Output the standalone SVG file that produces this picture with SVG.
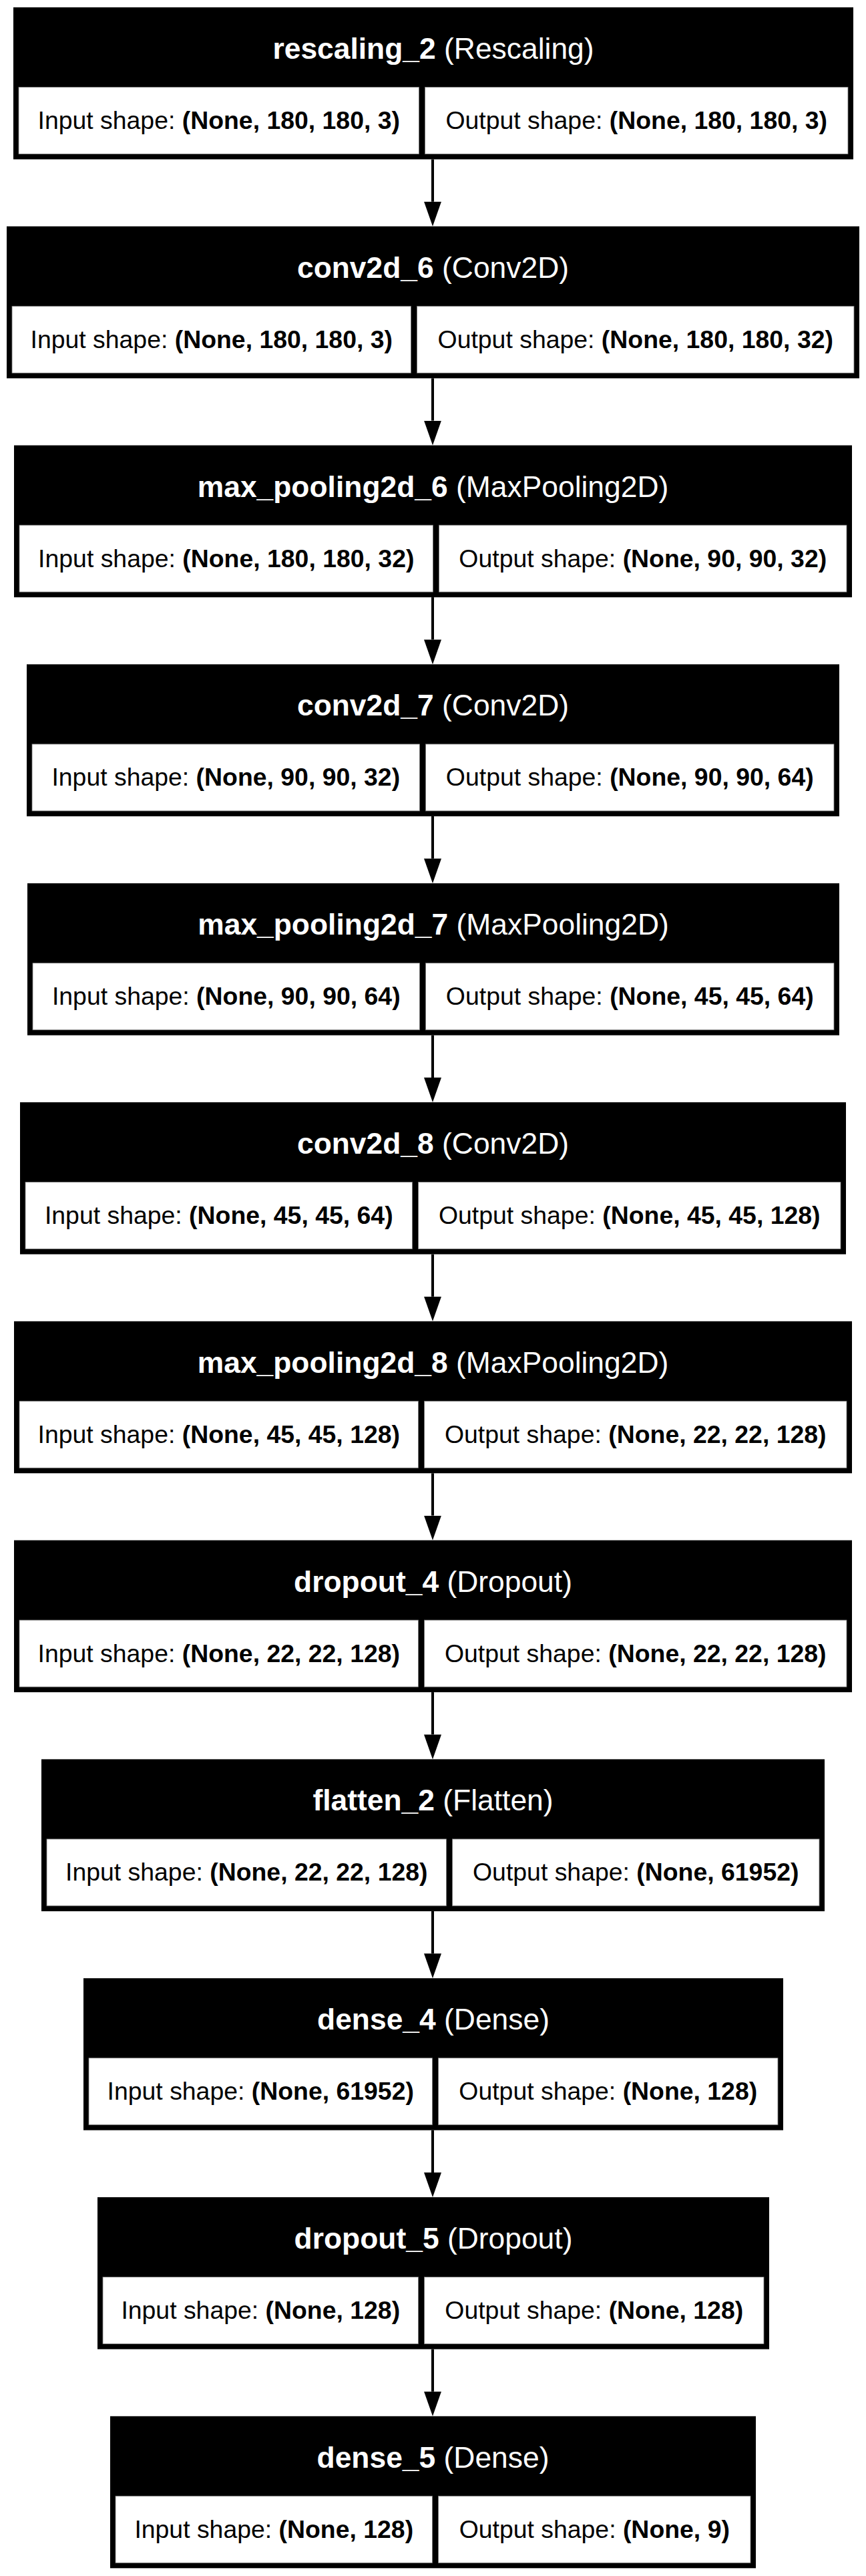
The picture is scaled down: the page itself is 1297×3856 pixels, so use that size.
<svg xmlns="http://www.w3.org/2000/svg" width="1297" height="3856" viewBox="0 0 1297 3856">
  <defs>
    <style>
      .box { fill: #000; }
      .cell { fill: #fff; stroke: #777; stroke-width: 0.8; }
      .title { font-family: "Liberation Sans", Arial, Helvetica, sans-serif; font-size: 44.4px; fill: #fff; text-anchor: middle; }
      .shape { font-family: "Liberation Sans", Arial, Helvetica, sans-serif; font-size: 37.4px; fill: #000; text-anchor: middle; }
      .b { font-weight: bold; }
      .edge { stroke: #000; stroke-width: 4; fill: none; }
    </style>
    <marker id="arrow" markerUnits="userSpaceOnUse" markerWidth="40" markerHeight="30" viewBox="0 -15 40 30" refX="0" refY="0" orient="auto">
      <path d="M0,-13 L37,0 L0,13 z" fill="#000"/>
    </marker>
  </defs>
  <rect width="1297" height="3856" fill="#fff"/>

  <!-- connectors: layer i bottom -> layer i+1 top -->
  <g id="edges">
    <line class="edge" x1="648" y1="238.5" x2="648" y2="301.8" marker-end="url(#arrow)"/>
    <line class="edge" x1="648" y1="566.3" x2="648" y2="629.6" marker-end="url(#arrow)"/>
    <line class="edge" x1="648" y1="894.1" x2="648" y2="957.4" marker-end="url(#arrow)"/>
    <line class="edge" x1="648" y1="1221.9" x2="648" y2="1285.2" marker-end="url(#arrow)"/>
    <line class="edge" x1="648" y1="1549.7" x2="648" y2="1613" marker-end="url(#arrow)"/>
    <line class="edge" x1="648" y1="1877.5" x2="648" y2="1940.8" marker-end="url(#arrow)"/>
    <line class="edge" x1="648" y1="2205.3" x2="648" y2="2268.6" marker-end="url(#arrow)"/>
    <line class="edge" x1="648" y1="2533.1" x2="648" y2="2596.4" marker-end="url(#arrow)"/>
    <line class="edge" x1="648" y1="2860.9" x2="648" y2="2924.2" marker-end="url(#arrow)"/>
    <line class="edge" x1="648" y1="3188.7" x2="648" y2="3252" marker-end="url(#arrow)"/>
    <line class="edge" x1="648" y1="3516.5" x2="648" y2="3579.8" marker-end="url(#arrow)"/>
  </g>

  <!-- layer nodes: black table, title row, input/output shape cells -->
  <g id="rescaling_2" transform="translate(0,11)">
    <rect class="box" x="20" y="0" width="1258" height="227.5"/>
    <rect class="cell" x="28" y="119.5" width="599.5" height="100"/>
    <rect class="cell" x="636.5" y="119.5" width="633.5" height="100"/>
    <text class="title" x="649" y="77"><tspan class="b">rescaling_2</tspan> (Rescaling)</text>
    <text class="shape" x="327.75" y="182">Input shape: <tspan class="b">(None, 180, 180, 3)</tspan></text>
    <text class="shape" x="953.25" y="182">Output shape: <tspan class="b">(None, 180, 180, 3)</tspan></text>
  </g>

  <g id="conv2d_6" transform="translate(0,338.8)">
    <rect class="box" x="10" y="0" width="1277" height="227.5"/>
    <rect class="cell" x="18" y="119.5" width="597.5" height="100"/>
    <rect class="cell" x="624.5" y="119.5" width="654.5" height="100"/>
    <text class="title" x="648.5" y="77"><tspan class="b">conv2d_6</tspan> (Conv2D)</text>
    <text class="shape" x="316.75" y="182">Input shape: <tspan class="b">(None, 180, 180, 3)</tspan></text>
    <text class="shape" x="951.75" y="182">Output shape: <tspan class="b">(None, 180, 180, 32)</tspan></text>
  </g>

  <g id="max_pooling2d_6" transform="translate(0,666.6)">
    <rect class="box" x="21" y="0" width="1255" height="227.5"/>
    <rect class="cell" x="29" y="119.5" width="619.5" height="100"/>
    <rect class="cell" x="657.5" y="119.5" width="610.5" height="100"/>
    <text class="title" x="648.5" y="77"><tspan class="b">max_pooling2d_6</tspan> (MaxPooling2D)</text>
    <text class="shape" x="338.75" y="182">Input shape: <tspan class="b">(None, 180, 180, 32)</tspan></text>
    <text class="shape" x="962.75" y="182">Output shape: <tspan class="b">(None, 90, 90, 32)</tspan></text>
  </g>

  <g id="conv2d_7" transform="translate(0,994.4)">
    <rect class="box" x="40" y="0" width="1217" height="227.5"/>
    <rect class="cell" x="48" y="119.5" width="580.5" height="100"/>
    <rect class="cell" x="637.5" y="119.5" width="611.5" height="100"/>
    <text class="title" x="648.5" y="77"><tspan class="b">conv2d_7</tspan> (Conv2D)</text>
    <text class="shape" x="338.25" y="182">Input shape: <tspan class="b">(None, 90, 90, 32)</tspan></text>
    <text class="shape" x="943.25" y="182">Output shape: <tspan class="b">(None, 90, 90, 64)</tspan></text>
  </g>

  <g id="max_pooling2d_7" transform="translate(0,1322.2)">
    <rect class="box" x="41" y="0" width="1216" height="227.5"/>
    <rect class="cell" x="49" y="119.5" width="579.5" height="100"/>
    <rect class="cell" x="637.5" y="119.5" width="611.5" height="100"/>
    <text class="title" x="649" y="77"><tspan class="b">max_pooling2d_7</tspan> (MaxPooling2D)</text>
    <text class="shape" x="338.75" y="182">Input shape: <tspan class="b">(None, 90, 90, 64)</tspan></text>
    <text class="shape" x="943.25" y="182">Output shape: <tspan class="b">(None, 45, 45, 64)</tspan></text>
  </g>

  <g id="conv2d_8" transform="translate(0,1650)">
    <rect class="box" x="30" y="0" width="1237" height="227.5"/>
    <rect class="cell" x="38" y="119.5" width="579.5" height="100"/>
    <rect class="cell" x="626.5" y="119.5" width="632.5" height="100"/>
    <text class="title" x="648.5" y="77"><tspan class="b">conv2d_8</tspan> (Conv2D)</text>
    <text class="shape" x="327.75" y="182">Input shape: <tspan class="b">(None, 45, 45, 64)</tspan></text>
    <text class="shape" x="942.75" y="182">Output shape: <tspan class="b">(None, 45, 45, 128)</tspan></text>
  </g>

  <g id="max_pooling2d_8" transform="translate(0,1977.8)">
    <rect class="box" x="21" y="0" width="1255" height="227.5"/>
    <rect class="cell" x="29" y="119.5" width="597.5" height="100"/>
    <rect class="cell" x="635.5" y="119.5" width="632.5" height="100"/>
    <text class="title" x="648.5" y="77"><tspan class="b">max_pooling2d_8</tspan> (MaxPooling2D)</text>
    <text class="shape" x="327.75" y="182">Input shape: <tspan class="b">(None, 45, 45, 128)</tspan></text>
    <text class="shape" x="951.75" y="182">Output shape: <tspan class="b">(None, 22, 22, 128)</tspan></text>
  </g>

  <g id="dropout_4" transform="translate(0,2305.6)">
    <rect class="box" x="21" y="0" width="1255" height="227.5"/>
    <rect class="cell" x="29" y="119.5" width="597.5" height="100"/>
    <rect class="cell" x="635.5" y="119.5" width="632.5" height="100"/>
    <text class="title" x="648.5" y="77"><tspan class="b">dropout_4</tspan> (Dropout)</text>
    <text class="shape" x="327.75" y="182">Input shape: <tspan class="b">(None, 22, 22, 128)</tspan></text>
    <text class="shape" x="951.75" y="182">Output shape: <tspan class="b">(None, 22, 22, 128)</tspan></text>
  </g>

  <g id="flatten_2" transform="translate(0,2633.4)">
    <rect class="box" x="62" y="0" width="1173" height="227.5"/>
    <rect class="cell" x="70" y="119.5" width="598.5" height="100"/>
    <rect class="cell" x="677.5" y="119.5" width="549.5" height="100"/>
    <text class="title" x="648.5" y="77"><tspan class="b">flatten_2</tspan> (Flatten)</text>
    <text class="shape" x="369.25" y="182">Input shape: <tspan class="b">(None, 22, 22, 128)</tspan></text>
    <text class="shape" x="952.25" y="182">Output shape: <tspan class="b">(None, 61952)</tspan></text>
  </g>

  <g id="dense_4" transform="translate(0,2961.2)">
    <rect class="box" x="125" y="0" width="1048" height="227.5"/>
    <rect class="cell" x="133" y="119.5" width="514.5" height="100"/>
    <rect class="cell" x="656.5" y="119.5" width="508.5" height="100"/>
    <text class="title" x="649" y="77"><tspan class="b">dense_4</tspan> (Dense)</text>
    <text class="shape" x="390.25" y="182">Input shape: <tspan class="b">(None, 61952)</tspan></text>
    <text class="shape" x="910.75" y="182">Output shape: <tspan class="b">(None, 128)</tspan></text>
  </g>

  <g id="dropout_5" transform="translate(0,3289)">
    <rect class="box" x="146" y="0" width="1006" height="227.5"/>
    <rect class="cell" x="154" y="119.5" width="472.5" height="100"/>
    <rect class="cell" x="635.5" y="119.5" width="508.5" height="100"/>
    <text class="title" x="649" y="77"><tspan class="b">dropout_5</tspan> (Dropout)</text>
    <text class="shape" x="390.25" y="182">Input shape: <tspan class="b">(None, 128)</tspan></text>
    <text class="shape" x="889.75" y="182">Output shape: <tspan class="b">(None, 128)</tspan></text>
  </g>

  <g id="dense_5" transform="translate(0,3616.8)">
    <rect class="box" x="165" y="0" width="967" height="227.5"/>
    <rect class="cell" x="173" y="119.5" width="474.5" height="100"/>
    <rect class="cell" x="656.5" y="119.5" width="467.5" height="100"/>
    <text class="title" x="648.5" y="77"><tspan class="b">dense_5</tspan> (Dense)</text>
    <text class="shape" x="410.25" y="182">Input shape: <tspan class="b">(None, 128)</tspan></text>
    <text class="shape" x="890.25" y="182">Output shape: <tspan class="b">(None, 9)</tspan></text>
  </g>
</svg>
